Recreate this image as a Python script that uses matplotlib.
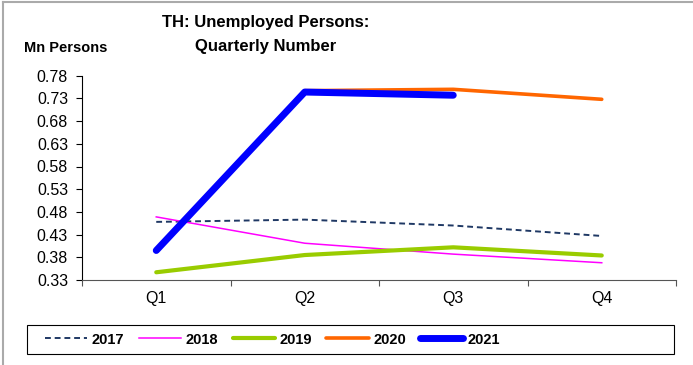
import numpy as np
import matplotlib.pyplot as plt
from matplotlib.patches import Rectangle
from matplotlib.lines import Line2D

plt.rcParams['font.family'] = ['Liberation Sans', 'DejaVu Sans']

# ---------------------------
# Data (Mn persons)
# ---------------------------
quarters = ["Q1", "Q2", "Q3", "Q4"]
y2017 = [0.458, 0.463, 0.450, 0.427]
y2018 = [0.469, 0.411, 0.387, 0.368]
y2019 = [0.347, 0.385, 0.402, 0.384]
y2020 = [0.395, 0.747, 0.750, 0.728]
y2021 = [0.395, 0.744, 0.737]
yticks = [0.33, 0.38, 0.43, 0.48, 0.53, 0.58, 0.63, 0.68, 0.73, 0.78]

# ---------------------------
# Figure
# ---------------------------
fig = plt.figure(figsize=(6.93, 3.65), dpi=100)
ax = fig.add_axes([82/693, 1 - 280/365, (676 - 82)/693, (280 - 75.7)/365])

x = np.arange(len(quarters))
ax.plot(x, y2017, color="#1F3864", lw=1.4, ls=(0, (3, 2)), label="2017")
ax.plot(x, y2018, color="#FF00FF", lw=1.1, label="2018")
ax.plot(x, y2019, color="#99CC00", lw=3.0, solid_capstyle="round", label="2019")
ax.plot(x, y2020, color="#FF6600", lw=2.6, solid_capstyle="round", label="2020")
ax.plot(x[:len(y2021)], y2021, color="#0000FF", lw=5.0,
        solid_capstyle="round", solid_joinstyle="round", label="2021")

ax.set_xlim(-0.5, 3.5)
ax.set_ylim(0.33, 0.78)
ax.set_yticks(yticks)
ax.set_yticklabels([f"{v:.2f}" for v in yticks], fontsize=11.5)

# category ticks at boundaries, labels at centres
ax.set_xticks(np.arange(-0.5, 4, 1))
ax.set_xticklabels([])
ax.set_xticks(x, minor=True)
ax.set_xticklabels(quarters, minor=True, fontsize=11.5)
ax.tick_params(axis="x", which="major", length=4, direction="out", color="#555555")
ax.tick_params(axis="x", which="minor", length=0, pad=8)
ax.tick_params(axis="y", length=4, direction="out", pad=6)

ax.spines["top"].set_visible(False)
ax.spines["right"].set_visible(False)
ax.spines["bottom"].set_color("#555555")
ax.spines["left"].set_color("black")

# titles
fig.text(266/693, 1 - 23/365, "TH: Unemployed Persons:",
         ha="center", va="center", fontsize=12, fontweight="bold")
fig.text(266/693, 1 - 46/365, "Quarterly Number",
         ha="center", va="center", fontsize=12, fontweight="bold")
fig.text(24/693, 1 - 48/365, "Mn Persons", ha="left", va="center",
         fontsize=10.5, fontweight="bold")

# legend with its own box
fig.patches.append(Rectangle((27/693, 1 - 354/365), (674 - 27)/693, 29/365,
                             transform=fig.transFigure, fill=False,
                             edgecolor="black", lw=0.8))
handles, labels = ax.get_legend_handles_labels()
leg = fig.legend(handles, labels, loc="center left", ncol=5, frameon=False,
                 bbox_to_anchor=(32/693, 1 - 339.5/365),
                 prop={"weight": "bold", "size": 10.5},
                 handlelength=2.9, handletextpad=0.3, columnspacing=1.0)

# outer frame (left and top)
fig.add_artist(Line2D([3/693, 3/693], [0, 1 - 2/365], transform=fig.transFigure,
                      color="#AAAAAA", lw=1.5))
fig.add_artist(Line2D([3/693, 1], [1 - 2/365, 1 - 2/365], transform=fig.transFigure,
                      color="#AAAAAA", lw=1.5))

fig.savefig("out.png", dpi=100)
